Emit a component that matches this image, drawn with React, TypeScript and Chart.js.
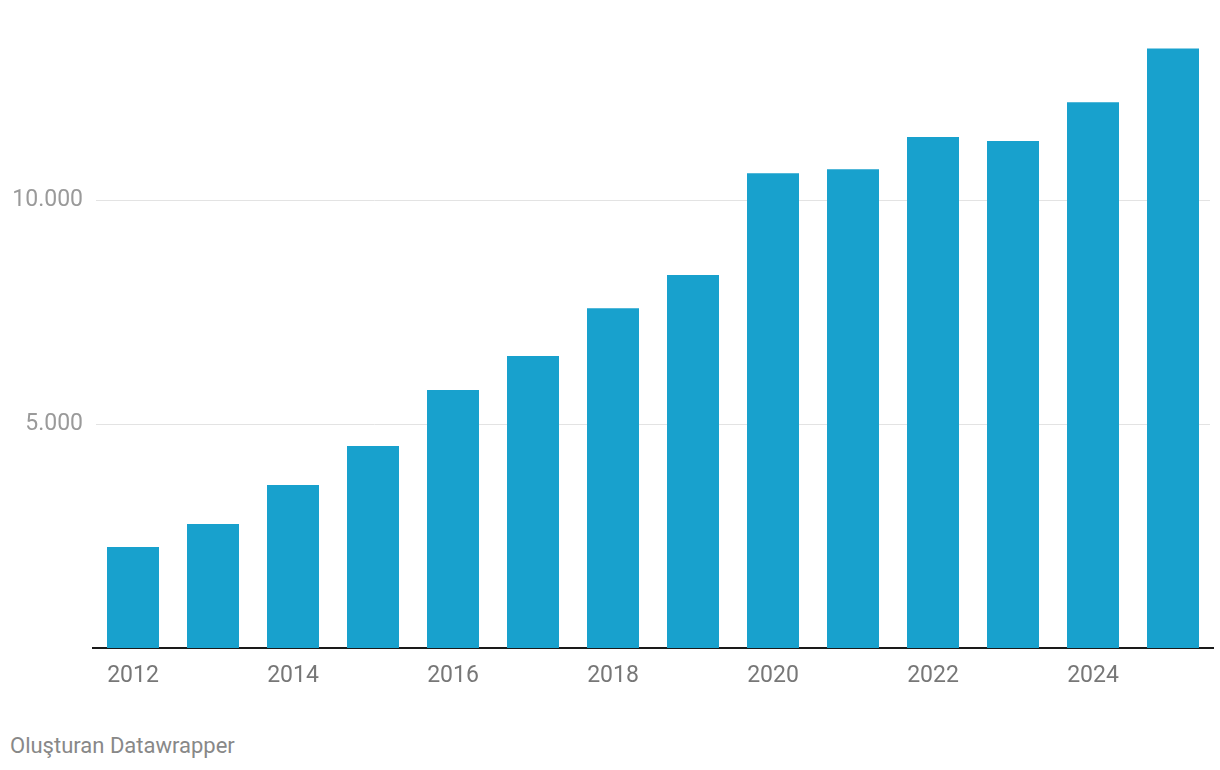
import React, { useEffect, useRef } from "react";
import { Chart, registerables } from "chart.js";

Chart.register(...registerables);

const years = ["2012", "2013", "2014", "2015", "2016", "2017", "2018", "2019", "2020", "2021", "2022", "2023", "2024", "2025"];
const values = [2255, 2770, 3640, 4510, 5760, 6520, 7590, 8330, 10600, 10690, 11410, 11320, 12190, 13390];
const yTickValues = [5000, 10000];
const yMax = 13940;
const footerText = "Oluşturan Datawrapper";

const fmt = (v: number) => String(v).replace(/\B(?=(\d{3})+(?!\d))/g, ".");

const gridPlugin = {
  id: "insetGrid",
  beforeDatasetsDraw(chart: any) {
    const { ctx, chartArea, scales } = chart;
    ctx.save();
    ctx.strokeStyle = "#e3e3e3";
    ctx.lineWidth = 1;
    for (const v of yTickValues) {
      const y = Math.round(scales.y.getPixelForValue(v)) + 0.5;
      ctx.beginPath();
      ctx.moveTo(chartArea.left + 3, y);
      ctx.lineTo(chartArea.right - 3, y);
      ctx.stroke();
    }
    ctx.restore();
  },
};

export default function App() {
  const ref = useRef<HTMLCanvasElement | null>(null);
  useEffect(() => {
    document.body.style.margin = "0";
    const ctx = ref.current!.getContext("2d")!;
    const chart = new Chart(ctx, {
      type: "bar",
      data: {
        labels: years,
        datasets: [
          {
            data: values,
            backgroundColor: "#18a1cd",
            categoryPercentage: 1,
            barPercentage: 0.65,
          },
        ],
      },
      options: {
        animation: false,
        responsive: false,
        devicePixelRatio: 1,
        layout: { padding: { top: 17, right: 7, left: 0, bottom: 0 } },
        plugins: { legend: { display: false }, tooltip: { enabled: false } },
        scales: {
          x: {
            grid: { display: false, drawTicks: false },
            border: { display: true, color: "#1a1a1a", width: 2 },
            ticks: {
              autoSkip: false,
              maxRotation: 0,
              padding: 14,
              color: "#777",
              font: { family: "Roboto", size: 23 },
              callback: (_v: any, i: number) => (i % 2 === 0 ? years[i] : ""),
            },
            afterFit: (s: any) => {
              s.height = 52;
            },
          },
          y: {
            min: 0,
            max: yMax,
            afterBuildTicks: (s: any) => {
              s.ticks = [0, ...yTickValues].map((v) => ({ value: v }));
            },
            grid: { display: false, drawTicks: false },
            border: { display: false },
            ticks: {
              padding: 10,
              color: "#9a9a9a",
              font: { family: "Roboto", size: 23 },
              callback: (v: any) => (v === 0 ? "" : fmt(v)),
            },
            afterFit: (s: any) => {
              s.width = 93;
            },
          },
        },
      },
      plugins: [gridPlugin],
    });
    return () => chart.destroy();
  }, []);
  return (
    <div style={{ position: "relative", width: 1220, height: 770, background: "#fff" }}>
      <canvas ref={ref} width={1220} height={700} style={{ display: "block" }} />
      <div
        style={{
          position: "absolute",
          left: 10,
          top: 732,
          fontFamily: "Roboto",
          fontSize: 22,
          color: "#888",
          lineHeight: "28px",
        }}
      >
        {footerText}
      </div>
    </div>
  );
}
